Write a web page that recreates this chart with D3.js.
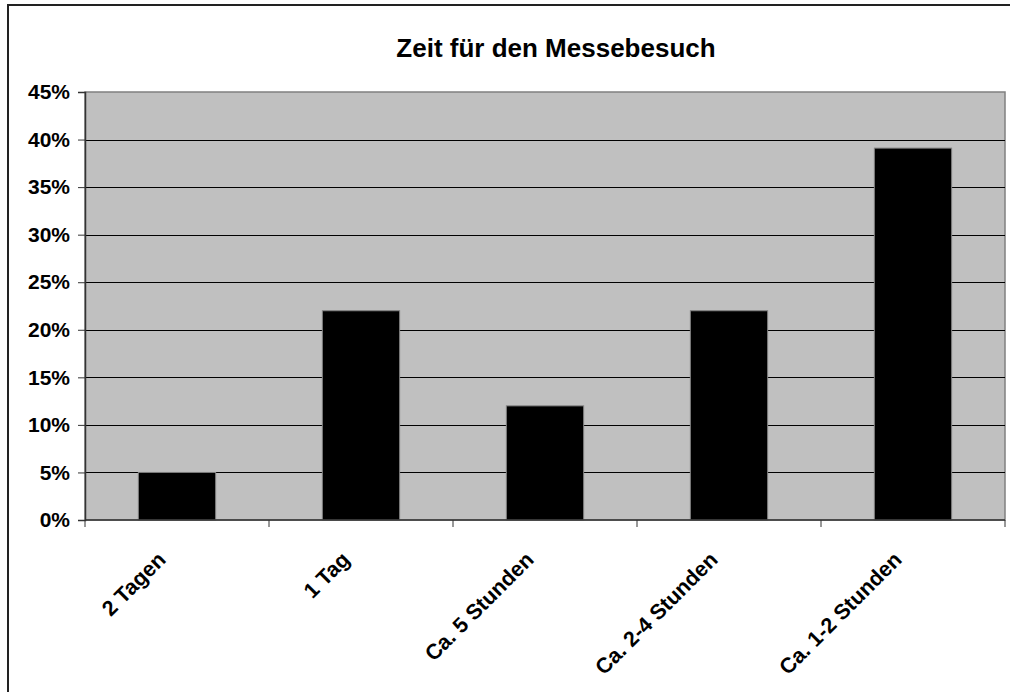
<!DOCTYPE html>
<html>
<head>
<meta charset="utf-8">
<script src="https://cdn.jsdelivr.net/npm/d3@7"></script>
<style>
  body { margin: 0; background: #fff; }
  svg { display: block; font-family: "Liberation Sans", Arial, sans-serif; }
</style>
</head>
<body>
<div id="chart"></div>
<script>
// data
const categories = ["2 Tagen", "1 Tag", "Ca. 5 Stunden", "Ca. 2-4 Stunden", "Ca. 1-2 Stunden"];
const values = [5, 22, 12, 22, 39.1];
const yTicks = [0, 5, 10, 15, 20, 25, 30, 35, 40, 45];
const title = "Zeit für den Messebesuch";

const width = 1010, height = 692;
const plot = {left: 85, top: 92, right: 1005, bottom: 520};

let svg = d3.select("#chart")
  .append("svg")
  .attr("width", width)
  .attr("height", height);

// outer frame
svg.append("rect")
  .attr("x", 8)
  .attr("y", 5)
  .attr("width", width + 20)
  .attr("height", height + 20)
  .attr("fill", "#fff")
  .attr("stroke", "#222")
  .attr("stroke-width", 2);

let x = d3.scaleBand()
  .domain(categories)
  .range([plot.left, plot.right])
  .padding(0);

let y = d3.scaleLinear()
  .domain([0, 45])
  .range([plot.bottom, plot.top]);

// plot background
svg.append("rect")
  .attr("x", plot.left)
  .attr("y", plot.top)
  .attr("width", plot.right - plot.left)
  .attr("height", plot.bottom - plot.top)
  .attr("fill", "#c0c0c0")
  .attr("stroke", "#808080")
  .attr("stroke-width", 1.5);

// gridlines
svg.append("g")
  .selectAll("line")
  .data(yTicks.filter(d => d > 0 && d < 45))
  .enter().append("line")
    .attr("x1", plot.left)
    .attr("x2", plot.right)
    .attr("y1", d => Math.round(y(d)) + 0.5)
    .attr("y2", d => Math.round(y(d)) + 0.5)
    .attr("stroke", "#000")
    .attr("stroke-width", 1);

// bars
let barW = x.bandwidth() * 0.42;
svg.append("g")
  .selectAll("rect")
  .data(values)
  .enter().append("rect")
    .attr("x", (d, i) => x(categories[i]) + (x.bandwidth() - barW) / 2)
    .attr("y", d => y(d))
    .attr("width", barW)
    .attr("height", d => y(0) - y(d))
    .attr("fill", "#000")
    .attr("stroke", "#808080")
    .attr("stroke-width", 1);

// y axis
let yAxis = svg.append("g")
  .attr("transform", "translate(" + plot.left + ",0)")
  .call(d3.axisLeft(y).tickValues(yTicks).tickFormat(d => d + "%").tickSize(7).tickPadding(8));
yAxis.select(".domain").attr("stroke", "#333").attr("stroke-width", 1.5);
yAxis.selectAll(".tick line").attr("stroke", "#333");
yAxis.selectAll("text")
  .attr("font-size", 21)
  .attr("font-weight", "bold")
  .attr("fill", "#000")
  .attr("font-family", "Liberation Sans, Arial, sans-serif");

// x axis
let xAxis = svg.append("g")
  .attr("transform", "translate(0," + plot.bottom + ")");
xAxis.append("line")
  .attr("x1", plot.left).attr("x2", plot.right)
  .attr("stroke", "#333").attr("stroke-width", 1.5);
xAxis.selectAll(".xtick")
  .data(d3.range(categories.length + 1))
  .enter().append("line")
    .attr("x1", i => plot.left + i * x.step())
    .attr("x2", i => plot.left + i * x.step())
    .attr("y1", 0).attr("y2", 7)
    .attr("stroke", "#333");
xAxis.selectAll(".xlabel")
  .data(categories)
  .enter().append("text")
    .attr("transform", d => "translate(" + (x(d) + x.bandwidth() / 2 - 10) + ",41) rotate(-45)")
    .attr("text-anchor", "end")
    .attr("font-size", 21.5)
    .attr("font-weight", "bold")
    .text(d => d);

// title
svg.append("text")
  .attr("x", 556)
  .attr("y", 57)
  .attr("text-anchor", "middle")
  .attr("font-size", 26)
  .attr("font-weight", "bold")
  .text(title);
</script>
</body>
</html>
